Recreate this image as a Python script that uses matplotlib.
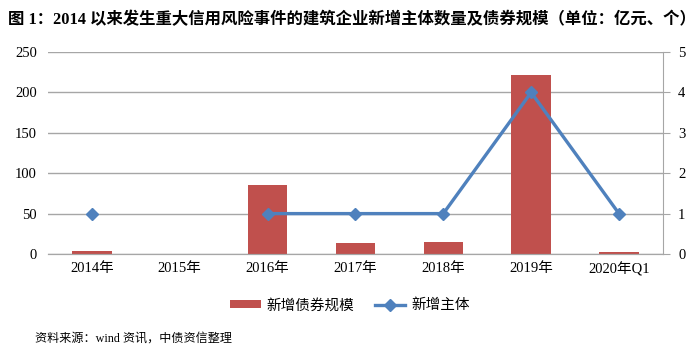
import numpy as np
import matplotlib
matplotlib.use('Agg')
import matplotlib.pyplot as plt

plt.rcParams['font.family'] = ['Liberation Serif', 'Noto Sans CJK SC']

categories = ['2014年', '2015年', '2016年', '2017年', '2018年', '2019年', '2020年Q1']
bond_scale = [4, 0, 85, 13, 15, 222, 2]          # 新增债券规模（亿元）
new_issuers = [1, np.nan, 1, 1, 1, 4, 1]         # 新增主体（个）

COL_BAR = '#C0504D'
COL_LINE = '#4F81BD'
COL_GRID = '#A6A6A6'

fig = plt.figure(figsize=(7.0, 3.55), dpi=100)
ax = fig.add_axes([0.0686, 0.2845, 0.8784, 0.569])
ax2 = ax.twinx()

x = np.arange(len(categories))
ax.bar(x, bond_scale, width=0.45, color=COL_BAR, zorder=2, label='新增债券规模')
ax2.plot(x, new_issuers, color=COL_LINE, lw=2.4, marker='D', ms=6.5,
         zorder=3, label='新增主体')

ax.set_xlim(-0.5, len(categories) - 0.5)
ax.set_ylim(0, 250)
ax.set_yticks(range(0, 251, 50))
ax2.set_ylim(0, 5)
ax2.set_yticks(range(0, 6))
ax.yaxis.grid(True, color=COL_GRID, lw=1.0, zorder=0)
ax.set_axisbelow(True)

ax.set_xticks(x)
ax.set_xticklabels(categories)
for a in (ax, ax2):
    for s in ('top', 'left'):
        a.spines[s].set_visible(False)
    a.spines['bottom'].set_color(COL_GRID)
    a.spines['right'].set_color(COL_GRID)
    a.tick_params(labelsize=10.5, colors='black')
ax.spines['right'].set_visible(False)
ax.tick_params(axis='y', length=0, pad=8)
ax.tick_params(axis='x', length=0, pad=6)
ax2.tick_params(axis='y', length=5, color=COL_GRID, pad=6)

h1, l1 = ax.get_legend_handles_labels()
h2, l2 = ax2.get_legend_handles_labels()
fig.legend(h1 + h2, l1 + l2, loc='center', bbox_to_anchor=(0.5, 0.14), ncol=2,
           frameon=False, fontsize=10.5, handlelength=2.1, handleheight=0.5,
           handletextpad=0.4, columnspacing=1.4)

fig.text(0.012, 0.945, '图 1：2014 以来发生重大信用风险事件的建筑企业新增主体数量及债券规模（单位：亿元、个）',
         fontsize=11.8, fontweight='bold', ha='left', va='center',
         family=['Liberation Serif', 'Noto Sans CJK SC'])
fig.text(0.05, 0.045, '资料来源：wind 资讯，中债资信整理', fontsize=8.7,
         ha='left', va='center')

fig.savefig('out.png', dpi=100)
